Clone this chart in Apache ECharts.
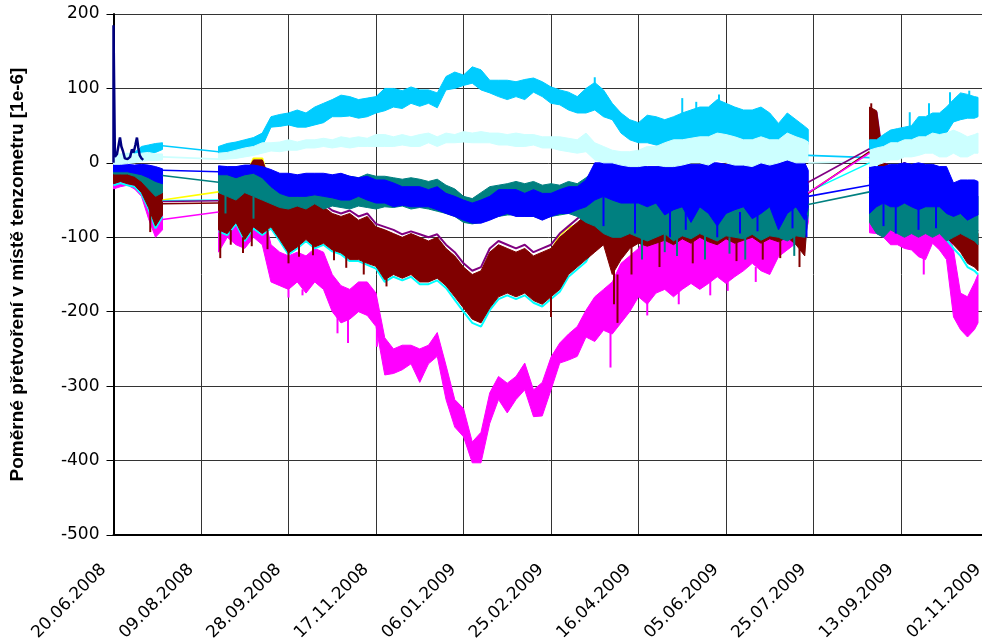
<!DOCTYPE html>
<html>
<head>
<meta charset="utf-8">
<script src="https://cdn.jsdelivr.net/npm/echarts/dist/echarts.min.js"></script>
<style>
  html, body { margin: 0; padding: 0; background: #ffffff; overflow: hidden; }
  #chart { width: 982px; height: 643px; }
</style>
</head>
<body>
<div id="chart"></div>
<script>
// Strain readings of the tenzometers, 20.06.2008 – 02.11.2009.
// x = days since 20.06.2008; the record has three measuring campaigns.
const tickLabels = ['20.06.2008', '09.08.2008', '28.09.2008', '17.11.2008', '06.01.2009',
  '25.02.2009', '16.04.2009', '05.06.2009', '25.07.2009', '13.09.2009', '02.11.2009'];

// sampling days of each campaign
const dayA = [0, 4, 8, 12, 16, 20, 24, 28];
const dayB = [60, 65, 70, 75, 80, 85, 90, 95, 100, 105,
  110, 115, 120, 125, 130, 135, 140, 145, 150, 155,
  160, 165, 170, 175, 180, 185, 190, 195, 200, 205,
  210, 215, 220, 225, 230, 235, 240, 245, 250, 255,
  260, 265, 270, 275, 280, 285, 290, 295, 300, 305,
  310, 315, 320, 325, 330, 335, 340, 345, 350, 355,
  360, 365, 370, 375, 380, 385, 390, 395, 397];
const dayC = [432, 436, 440, 444, 448, 452, 456, 460, 464, 468, 472, 476, 480, 484, 488, 492, 494];

// upper / lower envelope of each gauge's readings, per sampling day (A, B, C)
const skyHi = [8, 10, 12, 14, 22, 24, 26, 27,
  22, 26, 28, 31, 34, 40, 62, 65, 67, 71,
  67, 75, 80, 85, 91, 89, 85, 87, 89, 100,
  100, 97, 102, 98, 98, 94, 116, 122, 118, 129,
  125, 111, 111, 111, 109, 112, 114, 109, 102, 98,
  95, 89, 100, 108, 98, 80, 67, 58, 54, 64,
  62, 58, 62, 67, 71, 75, 75, 85, 80, 75,
  71, 71, 75, 67, 53, 67, 58, 49, 45,
  31, 31, 38, 44, 46, 48, 50, 62, 62, 67, 67, 75, 85, 94, 92, 89, 88];
const skyLo = [2, 2, 3, 4, 10, 12, 14, 18,
  8, 12, 14, 17, 20, 22, 48, 49, 51, 48,
  48, 51, 54, 62, 62, 63, 60, 62, 67, 70,
  75, 73, 80, 76, 80, 74, 98, 100, 104, 107,
  98, 94, 89, 85, 89, 85, 95, 89, 80, 78,
  71, 67, 67, 71, 62, 58, 40, 31, 27, 27,
  24, 22, 22, 17, 22, 27, 31, 31, 27, 27,
  22, 22, 27, 22, 27, 31, 27, 27, 25,
  13, 13, 17, 22, 22, 27, 27, 31, 31, 35, 35, 40, 55, 58, 60, 60, 62];

const paleHi = [12, 12, 13, 12, 13, 14, 12, 12,
  13, 14, 17, 20, 22, 27, 27, 28, 31, 28,
  31, 31, 33, 31, 35, 33, 35, 33, 38, 38,
  35, 38, 35, 38, 40, 35, 40, 38, 42, 40,
  42, 40, 40, 38, 40, 38, 38, 35, 35, 35,
  33, 31, 40, 27, 22, 17, 15, 15, 17, 22,
  22, 27, 31, 31, 33, 35, 35, 40, 38, 35,
  31, 31, 35, 31, 31, 40, 35, 31, 28,
  17, 20, 22, 27, 27, 31, 31, 35, 35, 40, 38, 40, 44, 40, 35, 38, 40];
const paleLo = [-2, -2, -1, 0, 2, 3, 3, 4,
  4, 5, 6, 8, 10, 13, 16, 15, 17, 17,
  20, 20, 22, 20, 22, 20, 22, 22, 22, 22,
  22, 24, 22, 22, 27, 22, 27, 27, 28, 27,
  27, 27, 24, 24, 22, 22, 24, 20, 20, 17,
  15, 13, 15, 4, 0, 0, -3, -5, -5, -3,
  -3, -5, -5, -3, 0, 0, -3, 4, 0, -3,
  -3, -5, 0, -3, 0, 4, 0, 0, 2,
  -5, -3, 0, 4, 4, 8, 8, 10, 13, 13, 8, 8, 13, 8, 8, 13, 13];

const blueHi = [-2, -2, -2, -3, -2, -3, -5, -8,
  -4, -5, -5, -3, -3, -5, -9, -14, -14, -16,
  -14, -14, -14, -16, -14, -18, -20, -18, -23, -23,
  -27, -32, -32, -32, -36, -32, -41, -45, -50, -54,
  -50, -45, -36, -36, -36, -41, -36, -41, -41, -36,
  -32, -32, -23, 0, 0, 0, -2, -5, -5, -5,
  -5, -5, -5, 0, -2, -2, 0, 0, -2, 0,
  -2, 0, 0, -2, 0, 4, 0, 0, -10,
  -5, -5, -5, -2, -2, 0, -2, 0, -2, -2, -5, -5, -27, -23, -23, -23, -25];
const blueLo = [-12, -12, -12, -14, -16, -20, -25, -28,
  -16, -16, -20, -16, -14, -20, -32, -41, -45, -45,
  -45, -43, -45, -47, -50, -50, -45, -50, -54, -54,
  -59, -57, -59, -59, -59, -63, -68, -72, -77, -81,
  -81, -77, -72, -68, -72, -72, -72, -77, -72, -68,
  -68, -63, -59, -50, -45, -50, -54, -54, -54, -59,
  -54, -70, -63, -59, -80, -59, -68, -85, -68, -63,
  -59, -75, -68, -59, -90, -68, -59, -77, -60,
  -68, -59, -54, -59, -59, -54, -59, -63, -59, -59, -59, -68, -72, -68, -77, -72, -70];

const tealHi = [-5, -5, -5, -6, -8, -10, -12, -15,
  -8, -8, -8, -6, -8, -10, -15, -20, -22, -20,
  -20, -18, -18, -20, -15, -18, -20, -15, -18, -18,
  -20, -22, -20, -22, -25, -22, -30, -35, -45, -48,
  -40, -32, -30, -28, -25, -28, -25, -30, -28, -30,
  -25, -28, -20, -10, -20, -30, -40, -45, -40, -45,
  -40, -45, -40, -45, -50, -45, -40, -45, -40, -45,
  -48, -40, -45, -40, -45, -40, -45, -40, -50,
  -20, -30, -40, -45, -40, -45, -40, -45, -40, -45, -40, -50, -35, -30, -35, -40, -45];
const tealLo = [-15, -15, -15, -18, -25, -35, -45, -40,
  -40, -45, -50, -40, -45, -50, -55, -60, -62, -58,
  -62, -55, -62, -58, -60, -62, -58, -60, -62, -59,
  -60, -58, -62, -60, -62, -65, -68, -72, -80, -82,
  -80, -75, -72, -70, -70, -72, -72, -75, -72, -70,
  -68, -72, -80, -85, -95, -100, -100, -95, -100, -105,
  -100, -95, -105, -98, -102, -95, -100, -105, -98, -100,
  -102, -96, -104, -98, -100, -105, -98, -100, -70,
  -80, -95, -100, -90, -95, -100, -95, -100, -95, -100, -95, -105, -100, -95, -100, -105, -110];

const redHi = [-10, -8, -10, -12, -15, -25, -35, -40,
  -25, -23, -25, -19, 4, 4, -32, -41, -45, -50,
  -50, -45, -59, -68, -72, -68, -77, -72, -86, -90,
  -95, -100, -95, -100, -105, -100, -115, -125, -140, -150,
  -145, -120, -110, -115, -120, -115, -125, -120, -115, -100,
  -90, -80, -70, -55, -40, -30, -20, -30, -20, -10,
  -20, -10, -15, -5, -20, -10, -10, -20, -5, -15,
  -10, -20, -5, -10, -10, -5, -10, -20, -30,
  75, 70, 0, -5, -10, 0, -10, -5, -10, -5, -10, -30, -60, -70, -80, -90, -95];
const redLo = [-28, -25, -28, -30, -40, -60, -85, -70,
  -90, -95, -80, -103, -86, -95, -86, -103, -121, -113,
  -103, -113, -108, -117, -121, -130, -130, -135, -139, -157,
  -150, -155, -150, -160, -160, -155, -165, -180, -195, -210,
  -215, -195, -180, -175, -180, -175, -185, -190, -180, -170,
  -150, -140, -130, -120, -110, -150, -130, -115, -108, -112,
  -108, -104, -110, -102, -108, -100, -106, -110, -102, -108,
  -104, -100, -108, -102, -106, -100, -110, -125, -60,
  30, 20, -60, -60, -70, -60, -70, -80, -75, -80, -85, -100, -110, -120, -135, -140, -145];

const pinkHi = [-15, -18, -15, -20, -25, -35, -45, -55,
  -40, -40, -45, -50, -50, -60, -110, -120, -125, -120,
  -125, -115, -120, -150, -165, -170, -160, -160, -175, -235,
  -250, -245, -245, -250, -245, -228, -272, -318, -330, -375,
  -362, -309, -287, -296, -287, -269, -305, -295, -261, -242,
  -230, -220, -198, -180, -170, -160, -135, -125, -115, -95,
  -90, -85, -95, -85, -80, -70, -80, -72, -90, -80,
  -72, -55, -62, -72, -62, -72, -72, -60, -50,
  -50, -60, -65, -70, -70, -75, -75, -70, -72, -72, -65, -80, -117, -175, -180, -161, -150];
const pinkLo = [-35, -32, -30, -35, -45, -75, -100, -90,
  -120, -100, -110, -115, -100, -110, -160, -165, -170, -160,
  -175, -160, -170, -200, -215, -210, -200, -205, -220, -285,
  -283, -278, -270, -295, -270, -260, -318, -355, -368, -403,
  -403, -350, -318, -336, -318, -305, -341, -340, -305, -269,
  -265, -260, -234, -240, -225, -230, -215, -200, -180, -190,
  -175, -170, -180, -170, -162, -170, -162, -153, -162, -153,
  -145, -135, -145, -150, -126, -117, -108, -100, -80,
  -94, -95, -100, -110, -110, -115, -117, -126, -130, -108, -117, -130, -207, -224, -234, -224, -215];

// gauges running almost on top of the dark-red one
const purpleVal = [-8, -6, -8, -10, -12, -22, -32, -38,
  -22, -20, -22, -16, 2, 2, -30, -38, -42, -46,
  -46, -42, -55, -64, -68, -64, -72, -68, -82, -86,
  -90, -96, -92, -96, -100, -96, -110, -120, -135, -145,
  -140, -115, -105, -110, -115, -110, -120, -115, -110, -95,
  -85, -75, -65, -50, -38, -28, -20, -28, -18, -10,
  -18, -10, -12, -5, -18, -8, -10, -18, -5, -12,
  -10, -18, -5, -8, -10, -5, -8, -18, -28,
  72, 68, 0, -5, -8, 0, -8, -5, -8, -5, -8, -28, -58, -68, -78, -88, -92];
const yellowVal = [-12, -10, -12, -14, -18, -28, -38, -44,
  -28, -26, -28, -22, 6, 6, -35, -44, -48, -53,
  -53, -48, -62, -71, -75, -71, -80, -75, -89, -93,
  -98, -103, -98, -103, -108, -103, -118, -128, -143, -153,
  -148, -123, -113, -118, -123, -118, -128, -123, -118, -97,
  -87, -83, -73, -58, -43, -33, -23, -33, -23, -13,
  -23, -13, -18, -8, -23, -13, -13, -23, -8, -18,
  -13, -23, -8, -18, -13, -8, -13, -23, -33,
  65, 60, -5, -10, -13, -5, -13, -10, -13, -10, -13, -33, -63, -73, -83, -93, -98];
const aquaVal = [-30, -27, -30, -32, -42, -62, -88, -72,
  -92, -97, -82, -105, -88, -97, -88, -105, -123, -115,
  -105, -115, -110, -119, -123, -132, -132, -137, -142, -160,
  -153, -158, -153, -163, -163, -158, -168, -184, -200, -215,
  -220, -198, -183, -178, -183, -178, -188, -193, -183, -173,
  -153, -143, -133, -110, -100, -130, -110, -105, -95, -100,
  -100, -95, -100, -95, -100, -95, -100, -100, -95, -100,
  -100, -95, -100, -95, -100, -95, -100, -110, -62,
  28, 18, -62, -62, -72, -62, -72, -82, -78, -82, -88, -103, -115, -125, -140, -145, -150];

// single short excursions of the readings: [day, from, to]
const redSpikes = [
  [21, -55, -93], [61, -90, -128], [67, -90, -110], [74, -100, -121], [79, -86, -112],
  [88, -90, -116], [100, -115, -135], [106, -110, -126], [114, -108, -124], [126, -115, -131],
  [133, -125, -141], [143, -130, -150], [156, -150, -166], [250, -175, -207], [286, -140, -190],
  [288, -150, -215], [296, -110, -150], [312, -105, -140], [331, -105, -135], [356, -105, -132],
  [381, -100, -128], [371, -100, -130], [392, -115, -140],
  [322, -8, 25], [337, -10, 75], [350, -5, 30], [374, -10, 60], [392, -10, 50], [433, 30, 80]
];
const pinkSpikes = [
  [95, -155, -161], [100, -165, -181], [108, -170, -178], [128, -200, -229], [134, -210, -242],
  [150.5, -215, -247], [284, -225, -275], [305, -185, -205], [323, -165, -190], [341, -155, -178],
  [351, -155, -172], [367, -140, -160], [335, -70, -50], [347, -72, -52], [368, -60, -48],
  [378, -62, -50], [385, -72, -55], [311, -88, -72], [463, -128, -150], [470, -70, -55]
];
const blueSpikes = [
  [280, -45, -85], [298, -50, -95], [318, -60, -100], [327, -59, -90], [345, -63, -100],
  [358, -66, -95], [368, -62, -92], [388, -60, -88], [396, -70, -100], [440, -54, -85],
  [447, -58, -95], [460, -60, -90], [470, -58, -88]
];
const tealSpikes = [
  [64, -44, -68], [80, -45, -75], [302, -100, -130], [315, -95, -120], [322, -100, -125],
  [338, -98, -130], [352, -100, -122], [361, -100, -130], [389, -98, -125]
];
const skySpikes = [
  [275, 100, 115], [325, 65, 87], [333, 70, 82], [346, 82, 92], [455, 48, 68],
  [466, 62, 80], [478, 72, 95], [489, 88, 97]
];

// early gauge with the start-up peak
const navyDays = [0, 0, 0.8, 2, 3, 3.7, 4.5, 5.5, 6.5, 8, 9.5, 10.5, 11.5, 12.5, 13.4, 14.2, 15, 16, 17];
const navyVal = [0, 185, 8, 12, 25, 34, 22, 15, 6, 5, 8, 18, 14, 24, 34, 20, 10, 6, 4];

// last reading before and first reading after each pause in measurement
const joinDays = [28, 60, 397, 432];
const skyJoin = [23, 15, 10, 7];
const paleJoin = [8, 5, 0, 2];
const blueJoin = [-10, -12, -45, -30];
const tealJoin = [-17, -26, -56, -39];
const yellowJoin = [-50, -39, -40, 14];
const aquaJoin = [-51, -50, -39, 0];
const purpleJoin = [-52, -51, -26, 19];
const redJoin = [-55, -54, -41, 15];
const pinkJoin = [-76, -66, -40, 13];

const DAYS = dayA.concat(dayB, dayC);
const SEGMENTS = [
  [0, dayA.length - 1],
  [dayA.length, dayA.length + dayB.length - 1],
  [dayA.length + dayB.length, DAYS.length - 1]
];

function band(name, color, hi, lo) {
  return {
    type: 'custom', name: name, silent: true,
    coordinateSystem: 'cartesian2d',
    data: SEGMENTS.map(s => [DAYS[s[0]], hi[s[0]]]),
    encode: { x: 0, y: 1 },
    renderItem: function (params, api) {
      const seg = SEGMENTS[params.dataIndex];
      const pts = [];
      for (let i = seg[0]; i <= seg[1]; i++) pts.push(api.coord([DAYS[i], hi[i]]));
      for (let i = seg[1]; i >= seg[0]; i--) pts.push(api.coord([DAYS[i], lo[i]]));
      return {
        type: 'polygon',
        shape: { points: pts },
        style: { fill: color, stroke: color, lineWidth: 1 }
      };
    }
  };
}

function spikes(name, color, list) {
  return {
    type: 'custom', name: name, silent: true,
    coordinateSystem: 'cartesian2d',
    data: list,
    encode: { x: 0, y: [1, 2] },
    renderItem: function (params, api) {
      const a = api.coord([api.value(0), api.value(1)]);
      const b = api.coord([api.value(0), api.value(2)]);
      return {
        type: 'line',
        shape: { x1: a[0], y1: a[1], x2: b[0], y2: b[1] },
        style: { stroke: color, lineWidth: 2 }
      };
    }
  };
}

function trace(name, color, vals, width) {
  const data = [];
  SEGMENTS.forEach(s => {
    for (let i = s[0]; i <= s[1]; i++) data.push([DAYS[i], vals[i]]);
    data.push([DAYS[s[1]], null]);
  });
  return {
    type: 'line', name: name, silent: true, data: data,
    showSymbol: false, connectNulls: false,
    lineStyle: { color: color, width: width }
  };
}

function joins(name, color, vals) {
  return [0, 1].map(k => ({
    type: 'line', name: name, silent: true, showSymbol: false,
    data: [[joinDays[2 * k], vals[2 * k]], [joinDays[2 * k + 1], vals[2 * k + 1]]],
    lineStyle: { color: color, width: 1.6 }
  }));
}

const C = {
  sky: '#00CCFF', pale: '#CCFFFF', blue: '#0000FF', teal: '#008080',
  red: '#800000', purple: '#800080', pink: '#FF00FF', yellow: '#FFFF00',
  aqua: '#00FFFF', navy: '#000080'
};

// drawing order: first in the list lies lowest
const series = [
  band('T7', C.pink, pinkHi, pinkLo),
  spikes('T7', C.pink, pinkSpikes),
  trace('T9', C.aqua, aquaVal, 2),
  trace('T8', C.yellow, yellowVal, 2),
  trace('T6', C.purple, purpleVal, 2),
  band('T5', C.red, redHi, redLo),
  spikes('T5', C.red, redSpikes),
  band('T4', C.teal, tealHi, tealLo),
  spikes('T4', C.teal, tealSpikes),
  band('T3', C.blue, blueHi, blueLo),
  spikes('T3', C.blue, blueSpikes),
  band('T1', C.sky, skyHi, skyLo),
  spikes('T1', C.sky, skySpikes),
  band('T2', C.pale, paleHi, paleLo),
  {
    type: 'line', name: 'T10', silent: true, showSymbol: false,
    data: navyDays.map((d, i) => [d, navyVal[i]]),
    lineStyle: { color: C.navy, width: 2.5 }
  }
].concat(
  joins('T1', C.sky, skyJoin),
  joins('T2', C.pale, paleJoin),
  joins('T3', C.blue, blueJoin),
  joins('T4', C.teal, tealJoin),
  joins('T8', C.yellow, yellowJoin),
  joins('T9', C.aqua, aquaJoin),
  joins('T6', C.purple, purpleJoin),
  joins('T5', C.red, redJoin),
  joins('T7', C.pink, pinkJoin)
);
series.forEach((s, i) => { s.z = 3 + i; });

const chart = echarts.init(document.getElementById('chart'), null, { renderer: 'canvas' });
chart.setOption({
  animation: false,
  backgroundColor: '#ffffff',
  grid: { left: 113.5, top: 14, width: 875, height: 521, containLabel: false, outerBoundsMode: 'none' },
  xAxis: {
    type: 'value', min: 0, max: 500, interval: 50,
    axisLine: { show: true, onZero: false, lineStyle: { color: '#000', width: 2 } },
    axisTick: { show: false },
    splitLine: { show: true, lineStyle: { color: '#333', width: 1 } },
    axisLabel: {
      rotate: 45, margin: 22, padding: [0, 14, 0, 0],
      fontFamily: 'DejaVu Sans', fontSize: 17, color: '#000',
      showMinLabel: true, showMaxLabel: true,
      formatter: v => tickLabels[Math.round(v / 50)] || ''
    }
  },
  yAxis: {
    type: 'value', min: -500, max: 200, interval: 100,
    name: 'Poměrné přetvoření v místě tenzometru [1e-6]',
    nameLocation: 'middle', nameGap: 86,
    nameTextStyle: { fontFamily: 'Liberation Sans', fontWeight: 'bold', fontSize: 19, color: '#000' },
    axisLine: { show: true, lineStyle: { color: '#000', width: 2 } },
    axisTick: { show: true, inside: false, length: 7, lineStyle: { color: '#000', width: 1 } },
    splitLine: { show: true, lineStyle: { color: '#333', width: 1 } },
    axisLabel: { margin: 14, fontFamily: 'DejaVu Sans', fontSize: 17, color: '#000' }
  },
  series: series
});
</script>
</body>
</html>
